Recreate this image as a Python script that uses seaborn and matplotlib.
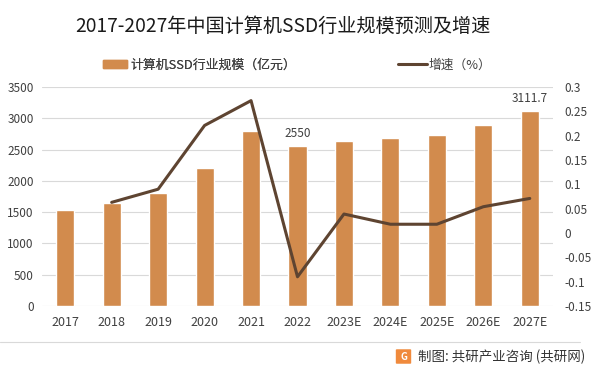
import numpy as np
import pandas as pd
import matplotlib
matplotlib.use("Agg")
import matplotlib.pyplot as plt
import seaborn as sns
from matplotlib.patches import Patch, FancyBboxPatch
from matplotlib.lines import Line2D

years = ["2017", "2018", "2019", "2020", "2021", "2022", "2023E", "2024E", "2025E", "2026E", "2027E"]
scale = [1540, 1650, 1800, 2200, 2800, 2550, 2640, 2690, 2740, 2900, 3111.7]
growth = [np.nan, 0.063, 0.09, 0.221, 0.272, -0.09, 0.039, 0.018, 0.018, 0.054, 0.071]
left_ticks = [0, 500, 1000, 1500, 2000, 2500, 3000, 3500]
right_ticks = [-0.15, -0.1, -0.05, 0, 0.05, 0.1, 0.15, 0.2, 0.25, 0.3]
right_labels = ["-0.15", "-0.1", "-0.05", "0", "0.05", "0.1", "0.15", "0.2", "0.25", "0.3"]
labeled = {"2022": "2550", "2027E": "3111.7"}

title = "2017-2027年中国计算机SSD行业规模预测及增速"
bar_name = "计算机SSD行业规模（亿元）"
line_name = "增速（%）"
source = "制图: 共研产业咨询 (共研网)"

bar_color = "#D28B4D"
line_color = "#5E4431"

sns.set_theme(style="white")
plt.rcParams["font.family"] = ["Noto Sans CJK SC", "DejaVu Sans"]

df = pd.DataFrame({"year": years, "scale": scale, "growth": growth, "pos": range(len(years))})

fig = plt.figure(figsize=(6, 3.72), dpi=100)
ax = fig.add_axes([42/600, 1-306/372, (553-42)/600, (306-87)/372])
sns.barplot(data=df, x="year", y="scale", color=bar_color, width=0.39, saturation=1, ax=ax)
ax.set_ylim(0, 3500)
ax.set_xlim(-0.5, len(years) - 0.5)
ax.set_yticks(left_ticks)
ax.set_yticklabels([str(t) for t in left_ticks])
ax.grid(axis="y", color="#D9D9D9", linewidth=0.8)
ax.set_axisbelow(True)
for s in ax.spines.values():
    s.set_visible(False)
ax.set_xlabel("")
ax.set_ylabel("")
ax.tick_params(axis="both", length=0, labelsize=8.5, labelcolor="#404040")
ax.tick_params(axis="x", pad=7, labelsize=9)
ax.tick_params(axis="y", pad=6)

for i, y in enumerate(years):
    if y in labeled:
        ax.text(i, scale[i] + 100, labeled[y], ha="center", va="bottom", fontsize=8.5, color="#404040")

ax2 = ax.twinx()
sns.lineplot(data=df.dropna(), x="pos", y="growth", color=line_color, linewidth=2.2, ax=ax2, legend=False)
ax2.set_ylim(-0.15, 0.3)
ax2.set_yticks(right_ticks)
ax2.set_yticklabels(right_labels)
ax2.set_xlim(-0.5, len(years) - 0.5)
for s in ax2.spines.values():
    s.set_visible(False)
ax2.set_ylabel("")
ax2.set_xlabel("")
ax2.tick_params(axis="y", length=0, labelsize=8.5, labelcolor="#404040", pad=8)

fig.text(283/600, 1-26/372, title, ha="center", va="center", fontsize=13.8, color="#1a1a1a")

leg1 = fig.legend(handles=[Patch(color=bar_color, label=bar_name)], loc="center left",
                  bbox_to_anchor=(103/600, 1-65/372), frameon=False, fontsize=9.3,
                  borderpad=0, borderaxespad=0,
                  handlelength=1.86, handleheight=0.55, handletextpad=0.3, labelcolor="#404040")
fig.legend(handles=[Line2D([0], [0], color=line_color, lw=2.2, label=line_name)], loc="center left",
           bbox_to_anchor=(398/600, 1-65/372), frameon=False, fontsize=9.2,
           borderpad=0, borderaxespad=0,
           handlelength=2.25, handletextpad=0.1, labelcolor="#404040")
fig.add_artist(leg1)

fig.add_artist(Line2D([0, 580/600], [1-342/372, 1-342/372], color="#D9D9D9", lw=0.8))
fig.text(585/600, 1-357/372, source, ha="right", va="center", fontsize=9.7, color="#333333")
fig.add_artist(FancyBboxPatch((397/600, 1-363/372), 13/600, 13/372, boxstyle="round,pad=0.002",
                              facecolor="#F08A3C", edgecolor="none", transform=fig.transFigure))
fig.text(403.5/600, 1-356.5/372, "G", ha="center", va="center", fontsize=7, color="white", weight="bold")

fig.savefig("out.png", dpi=100)
